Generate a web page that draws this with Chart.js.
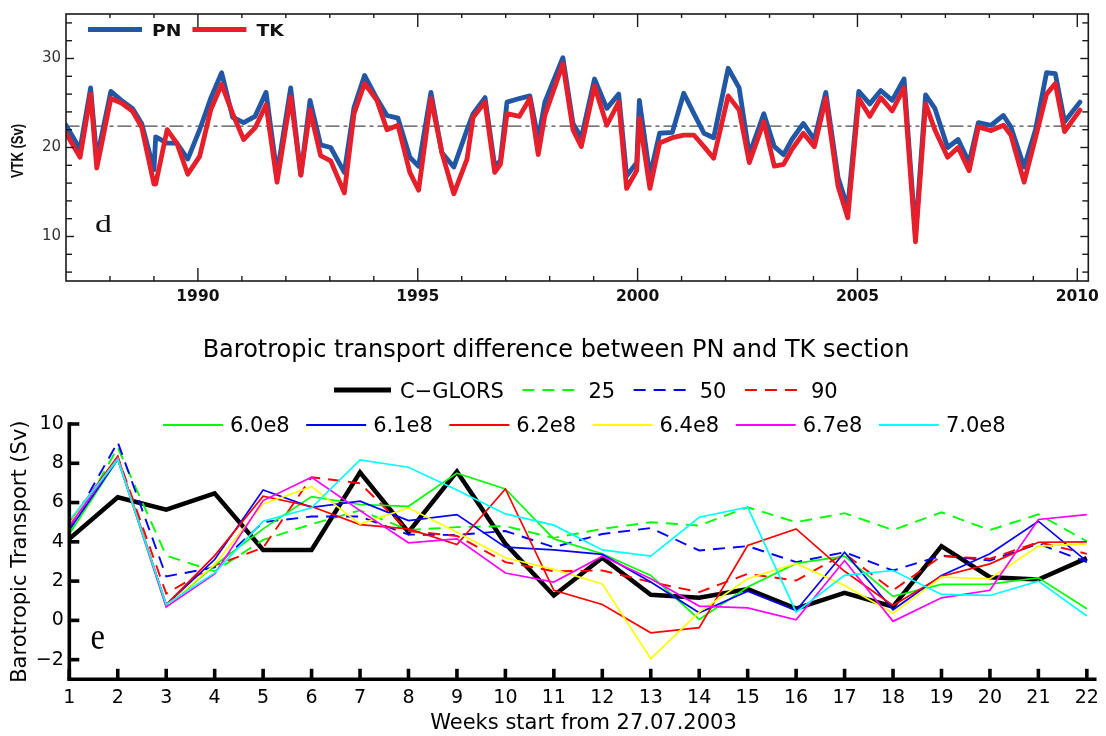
<!DOCTYPE html>
<html><head><meta charset="utf-8">
<script src="https://cdn.jsdelivr.net/npm/chart.js@4.4.0/dist/chart.umd.min.js"></script>
<style>
html,body{margin:0;padding:0;background:#fff;}
#wrap{position:relative;width:1106px;height:736px;overflow:hidden;background:#fff;}
#c1{position:absolute;left:0;top:0;}
#c2{position:absolute;left:0;top:310px;}
</style></head><body>
<div id="wrap"><canvas id="c1" width="1106" height="310"></canvas><canvas id="c2" width="1106" height="426"></canvas></div>
<script>
// ---------- Panel d data ----------
const surveyYears = [1987.0,1987.32,1987.56,1987.70,1988.02,1988.26,1988.51,1988.72,1989.00,1989.04,
 1989.30,1989.52,1989.77,1990.04,1990.29,1990.54,1990.79,1991.04,1991.30,1991.55,
 1991.80,1992.11,1992.34,1992.55,1992.79,1993.02,1993.33,1993.55,1993.79,1994.07,
 1994.30,1994.55,1994.82,1995.02,1995.30,1995.55,1995.82,1996.12,1996.26,1996.53,
 1996.75,1996.88,1997.03,1997.31,1997.55,1997.74,1997.89,1998.30,1998.53,1998.72,
 1999.02,1999.30,1999.57,1999.75,1999.98,2000.04,2000.28,2000.50,2000.79,2001.05,
 2001.28,2001.51,2001.73,2002.06,2002.31,2002.54,2002.87,2003.11,2003.32,2003.51,
 2003.77,2004.02,2004.28,2004.56,2004.78,2005.03,2005.28,2005.53,2005.79,2006.06,
 2006.32,2006.55,2006.76,2007.05,2007.29,2007.54,2007.75,2008.04,2008.32,2008.49,
 2008.79,2009.05,2009.30,2009.50,2009.71,2010.06];
const pnVTK = [22.5,19.8,26.7,18.7,26.3,25.3,24.4,22.7,17.5,21.2,
 20.5,20.5,18.7,22.0,25.5,28.4,23.4,22.8,23.5,26.2,
 17.0,26.7,16.9,25.3,20.3,20.0,17.2,24.5,28.1,25.5,
 23.6,23.3,18.9,17.9,26.2,19.4,17.8,22.0,23.8,25.6,
 17.9,18.5,25.1,25.5,25.8,20.9,25.1,30.1,22.7,21.1,
 27.7,24.4,26.0,16.8,18.3,25.3,16.8,21.6,21.7,26.1,
 23.8,21.6,21.1,28.9,26.7,19.2,23.8,20.1,19.2,20.9,
 22.7,20.9,26.2,16.6,13.2,26.3,24.9,26.4,25.3,27.7,
 10.2,25.9,24.4,20.0,20.9,18.3,22.8,22.5,23.6,22.3,
 17.8,22.0,28.4,28.3,22.9,25.1];
const tkVTK = [21.6,18.9,26.0,17.7,25.5,25.0,24.1,22.3,15.9,15.9,
 22.0,20.5,17.0,19.0,24.2,27.1,23.8,20.9,22.2,24.8,
 16.1,25.7,16.9,24.2,19.1,18.5,14.9,23.8,27.2,25.3,
 22.0,22.5,17.2,15.2,25.5,19.4,14.8,18.7,23.4,25.1,
 17.2,18.1,23.8,23.5,25.5,19.2,23.6,29.4,22.0,20.1,
 26.9,22.5,25.1,15.4,17.4,23.3,15.4,20.5,21.1,21.4,
 21.4,20.1,18.8,25.8,24.2,18.3,22.9,17.9,18.1,19.8,
 21.6,20.1,25.5,15.6,12.1,25.5,23.5,25.6,24.1,26.7,
 9.4,24.9,22.0,18.9,20.0,17.4,22.3,21.9,22.5,21.4,
 16.1,21.1,26.0,27.2,21.8,24.2];
const meanVTK = 22.4;
const yearRange = [1987, 2010.25];
const vtkRange = [5, 35];
const yearLabels = [1990,1995,2000,2005,2010];
const vtkLabels = [10,20,30];

// ---------- Panel e data ----------
const weeks = [1,2,3,4,5,6,7,8,9,10,11,12,13,14,15,16,17,18,19,20,21,22];
const seriesNames = ['C\u2212GLORS','25','50','90','6.0e8','6.1e8','6.2e8','6.4e8','6.7e8','7.0e8'];
const cglors = [4.15,6.27,5.64,6.47,3.59,3.59,7.54,4.49,7.58,3.9,1.27,3.19,1.3,1.15,1.6,0.6,1.4,0.7,3.78,2.2,2.08,3.17];
const run25  = [4.4,8.8,3.3,2.5,4.1,4.9,5.6,4.6,4.75,4.8,4.2,4.66,5.0,4.83,5.76,5.0,5.46,4.6,5.5,4.6,5.4,4.03];
const run50  = [4.7,9.07,2.24,2.7,5.0,5.29,5.29,4.37,4.35,4.55,3.73,4.4,4.7,3.56,3.78,2.97,3.47,2.54,3.3,3.05,3.9,2.97];
const run90  = [4.8,8.34,1.36,2.8,3.7,7.29,6.98,4.55,4.3,2.97,2.5,2.54,1.95,1.44,2.37,2.03,3.39,1.53,3.27,3.14,3.98,3.39];
const r60e8  = [4.4,8.2,0.68,2.8,4.66,6.3,5.9,5.81,7.5,6.69,4.15,3.39,2.29,0.05,1.7,2.9,3.27,1.22,1.83,1.85,2.17,0.59];
const r61e8  = [4.6,8.2,0.8,3.1,6.64,5.76,6.07,5.08,5.39,3.73,3.59,3.36,1.95,0.39,1.49,0.5,3.47,0.54,2.29,3.39,5.05,3.0];
const r62e8  = [5.0,8.35,0.8,3.3,6.32,5.8,4.88,4.66,3.86,6.69,1.53,0.81,-0.63,-0.37,3.81,4.66,2.5,0.76,2.25,2.88,3.98,4.0];
const r64e8  = [4.9,8.25,0.7,2.85,5.93,6.81,4.9,5.73,4.49,3.19,2.6,1.86,-1.95,0.42,2.12,2.9,1.78,0.37,2.2,2.12,3.78,3.9];
const r67e8  = [4.8,8.25,0.68,2.37,6.1,7.29,5.59,3.95,4.15,2.41,1.95,3.27,2.12,0.73,0.64,0.03,3.05,-0.05,1.15,1.53,5.14,5.39];
const r70e8  = [5.08,8.2,0.81,2.42,5.05,5.73,8.17,7.8,6.64,5.42,4.85,3.59,3.27,5.25,5.76,0.42,2.29,2.54,1.32,1.27,2.0,0.22];
const weekRange = [1, 22.2];
const transportRange = [-3, 10];
const transportTicks = [-2,0,2,4,6,8,10];

// ---------- helpers ----------
function seg(ctx,x1,y1,x2,y2){ctx.beginPath();ctx.moveTo(x1,y1);ctx.lineTo(x2,y2);ctx.stroke();}
const toPts = (xs, ys) => xs.map((x,i)=>({x:x, y:ys[i]}));

// ---------- Panel d ----------
const PN_COLOR = '#2257a5', TK_COLOR = '#e61f2b';
const topDeco = {
  id:'topDeco',
  afterDraw(chart){
    const {ctx, chartArea:a, scales:{x,y}} = chart;
    ctx.save();
    ctx.strokeStyle = '#1a1a1a'; ctx.lineWidth = 1.6; ctx.lineCap='butt';
    ctx.strokeRect(a.left, a.top, a.right-a.left, a.bottom-a.top);
    ctx.lineWidth = 1.4;
    for(let yr=Math.ceil(yearRange[0])+1; yr<=Math.floor(yearRange[1]); yr++){
      const px = x.getPixelForValue(yr);
      const major = yr % 5 === 0;
      seg(ctx, px, a.bottom, px, a.bottom-(major?13:5));
      seg(ctx, px, a.top, px, a.top+(major?13:4));
    }
    for(let v=vtkRange[0]+1; v<vtkRange[1]; v+=2){
      const py = y.getPixelForValue(v);
      const L = v % 10 === 0 ? 8 : 6;
      seg(ctx, a.left, py, a.left+L, py);
      seg(ctx, a.right, py, a.right-L, py);
    }
    // legend
    const ds = chart.data.datasets;
    const items = [ds[1], ds[0]];
    let lx = 88;
    items.forEach(d=>{
      ctx.strokeStyle = d.borderColor; ctx.lineWidth = 5;
      seg(ctx, lx, 29.5, lx+54, 29.5);
      ctx.save();
      ctx.translate(lx+64, 35.5);
      ctx.scale(1.25,1);
      ctx.fillStyle = '#111';
      ctx.font = 'bold 15px "DejaVu Sans"';
      ctx.textBaseline = 'alphabetic'; ctx.textAlign='left';
      ctx.fillText(d.label, 0, 0);
      const w = ctx.measureText(d.label).width*1.25;
      ctx.restore();
      lx = lx + 64 + w + 11;
    });
    // panel letter
    ctx.save();
    ctx.translate(95, 231.5); ctx.scale(1.3,1);
    ctx.fillStyle = '#111'; ctx.font = '26px "Liberation Serif"';
    ctx.fillText('d', 0, 0);
    ctx.restore();
    // y title
    ctx.save();
    ctx.translate(18.5, 151); ctx.rotate(-Math.PI/2); ctx.scale(1,1.3);
    ctx.fillStyle = '#111'; ctx.font = 'bold 13px "Liberation Sans"';
    ctx.textAlign = 'center'; ctx.textBaseline = 'middle';
    ctx.fillText('VTK (Sv)', 0, 0);
    ctx.restore();
    ctx.restore();
  }
};

new Chart(document.getElementById('c1'), {
  type:'line',
  data:{datasets:[
    {label:'TK', data: toPts(surveyYears, tkVTK), borderColor:TK_COLOR, borderWidth:4.8, order:0},
    {label:'PN', data: toPts(surveyYears, pnVTK), borderColor:PN_COLOR, borderWidth:4.8, order:1},
    {label:'mean', data: toPts(yearRange, [meanVTK, meanVTK]), borderColor:'#4a4a4a', borderWidth:1.3, borderDash:[13,5,3,5], order:2}
  ]},
  options:{
    responsive:false, animation:false, devicePixelRatio:1,
    layout:{padding:{left:0,right:12,top:8,bottom:0}},
    plugins:{legend:{display:false}, tooltip:{enabled:false}, title:{display:false}},
    elements:{point:{radius:0}, line:{tension:0, borderJoinStyle:'round', borderCapStyle:'round', fill:false}},
    scales:{
      x:{type:'linear', min:yearRange[0], max:yearRange[1],
         grid:{display:false, drawTicks:false}, border:{display:false},
         afterBuildTicks: s => { s.ticks = yearLabels.map(v=>({value:v})); },
         afterFit: s => { s.height = 29; },
         ticks:{font:{family:'DejaVu Sans', weight:'bold', size:15.5}, color:'#111', padding:7, maxRotation:0, autoSkip:false,
                callback: v => String(v)}},
      y:{type:'linear', min:vtkRange[0], max:vtkRange[1],
         grid:{display:false, drawTicks:false}, border:{display:false},
         afterBuildTicks: s => { s.ticks = vtkLabels.map(v=>({value:v})); },
         afterFit: s => { s.width = 66; },
         ticks:{font:{family:'DejaVu Sans', size:15}, color:'#333', padding:5}}
    }
  },
  plugins:[topDeco]
});

// ---------- Panel e ----------
const eSeries = [cglors, run25, run50, run90, r60e8, r61e8, r62e8, r64e8, r67e8, r70e8];
const eColors = ['#000000','#00ff00','#0000ff','#ff0000','#00ff00','#0000ff','#ff0000','#ffff00','#ff00ff','#00ffff'];
const eWidths = [4.5,1.9,1.9,1.9,1.7,1.7,1.7,1.7,1.7,1.7];
const eDashes = [[],[12,8],[12,8],[12,8],[],[],[],[],[],[]];
const FONT = '"DejaVu Sans"';

const botDeco = {
  id:'botDeco',
  afterDraw(chart){
    const {ctx, chartArea:a, scales:{x,y}} = chart;
    ctx.save();
    ctx.strokeStyle = '#000'; ctx.lineWidth = 3.6; ctx.lineCap = 'butt';
    const yTop = y.getPixelForValue(transportTicks[transportTicks.length-1]);
    seg(ctx, a.left, a.bottom+1.8, a.left, yTop-1.8);
    seg(ctx, a.left-1.8, a.bottom, a.right, a.bottom);
    transportTicks.forEach(v=>{ const py=y.getPixelForValue(v); seg(ctx, a.left, py, a.left+10, py); });
    weeks.forEach(w=>{ const px=x.getPixelForValue(w); seg(ctx, px, a.bottom, px, a.bottom-10.5); });
    // title
    ctx.fillStyle = '#000'; ctx.textAlign='center'; ctx.textBaseline='alphabetic';
    ctx.font = '24px ' + FONT;
    ctx.fillText('Barotropic transport difference between PN and TK section', 556, 47);
    // x title
    ctx.font = '21px ' + FONT;
    ctx.fillText('Weeks start from 27.07.2003', 583.5, 419);
    // y title
    ctx.save();
    ctx.translate(25.5, (a.top+a.bottom)/2); ctx.rotate(-Math.PI/2);
    ctx.textAlign='center'; ctx.textBaseline='alphabetic';
    ctx.fillText('Barotropic Transport (Sv)', 0, 0);
    ctx.restore();
    // panel letter
    ctx.save();
    ctx.translate(90.5, 339); ctx.scale(0.88,1);
    ctx.font = '37px "Liberation Serif"'; ctx.textAlign='left';
    ctx.fillText('e', 0, 0);
    ctx.restore();
    // legend
    const ds = chart.data.datasets;
    ctx.font = '21px ' + FONT; ctx.textAlign='left';
    const drawRow = (idx, startX, lineLen, lineY, baseY, gapT, gapN) => {
      let lx = startX;
      idx.forEach(i=>{
        const d = ds[i];
        ctx.strokeStyle = d.borderColor;
        ctx.lineWidth = i===0 ? 5 : 2.1;
        ctx.setLineDash(d.borderDash || []);
        seg(ctx, lx, lineY, lx+lineLen, lineY);
        ctx.setLineDash([]);
        ctx.fillStyle = '#000';
        ctx.fillText(d.label, lx+lineLen+gapT, baseY);
        lx = lx + lineLen + gapT + ctx.measureText(d.label).width + gapN;
      });
    };
    drawRow([0,1,2,3], 334, 57, 80, 88, 9, 18.5);
    drawRow([4,5,6,7,8,9], 163, 60, 115, 122, 7, 16.5);
    ctx.restore();
  }
};

new Chart(document.getElementById('c2'), {
  type:'line',
  data:{datasets: eSeries.map((s,i)=>({
    label: seriesNames[i], data: toPts(weeks, s), borderColor: eColors[i], borderWidth: eWidths[i],
    borderDash: eDashes[i], order: eSeries.length - i
  }))},
  options:{
    responsive:false, animation:false, devicePixelRatio:1,
    layout:{padding:{left:0,right:7.5,top:114,bottom:0}},
    plugins:{legend:{display:false}, tooltip:{enabled:false}, title:{display:false}},
    elements:{point:{radius:0}, line:{tension:0, borderJoinStyle:'miter', fill:false}},
    scales:{
      x:{type:'linear', min:weekRange[0], max:weekRange[1],
         grid:{display:false, drawTicks:false}, border:{display:false},
         afterBuildTicks: s => { s.ticks = weeks.map(v=>({value:v})); },
         afterFit: s => { s.height = 56.7; },
         ticks:{font:{family:'DejaVu Sans', size:19}, color:'#000', padding:7, maxRotation:0, autoSkip:false,
                callback: v => String(v)}},
      y:{type:'linear', min:transportRange[0], max:transportRange[1],
         grid:{display:false, drawTicks:false}, border:{display:false},
         afterBuildTicks: s => { s.ticks = transportTicks.map(v=>({value:v})); },
         afterFit: s => { s.width = 69.3; },
         ticks:{font:{family:'DejaVu Sans', size:19}, color:'#000', padding:5.5,
                callback: v => v < 0 ? '\u2212' + Math.abs(v) : String(v)}}
    }
  },
  plugins:[botDeco]
});
</script>
</body></html>
